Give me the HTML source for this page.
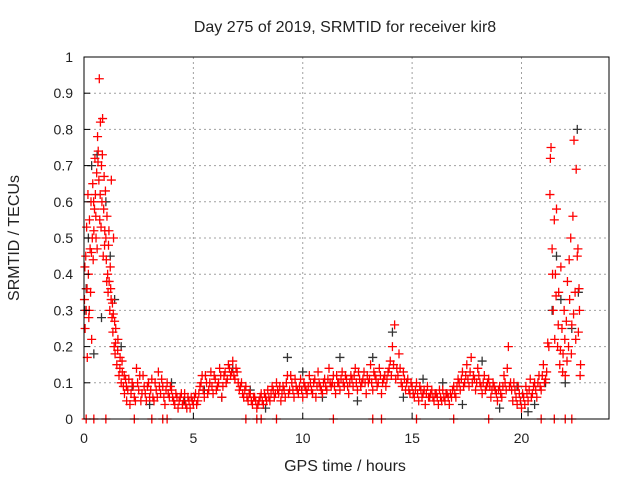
<!DOCTYPE html>
<html><head><meta charset="utf-8"><style>
body{margin:0;background:#fff;}
svg text{font-family:"Liberation Sans",sans-serif;font-size:14px;fill:#222;}
svg text.big{font-size:16px;}
</style></head><body>
<svg id="chart" width="640" height="480">
<text class="big" x="345" y="32" text-anchor="middle">Day 275 of 2019, SRMTID for receiver kir8</text>
<text class="big" x="345" y="471" text-anchor="middle">GPS time / hours</text>
<text class="big" transform="translate(19,238) rotate(-90)" text-anchor="middle">SRMTID / TECUs</text>
<g id="grid"></g>
<g id="black"></g>
<g id="red"></g>
<rect x="84" y="57" width="525" height="362" fill="none" stroke="#000"/>
<g id="axes"></g>
</svg>
<script>
const xTicks=[0,5,10,15,20];
const yTicks=[0,0.1,0.2,0.3,0.4,0.5,0.6,0.7,0.8,0.9,1];
const yTickLabels=["0","0.1","0.2","0.3","0.4","0.5","0.6","0.7","0.8","0.9","1"];
const redData=[[0.02,0.33],[0.05,0.25],[0.08,0.45],[0.1,0.3],[0.12,0.53],[0.15,0.17],[0.18,0.62],[0.2,0.4],[0.22,0.28],[0.25,0.55],[0.28,0.47],[0.3,0.35],[0.32,0.6],[0.35,0.22],[0.38,0.5],[0.4,0.65],[0.42,0.44],[0.45,0.52],[0.48,0.58],[0.5,0.72],[0.52,0.62],[0.55,0.5],[0.58,0.68],[0.6,0.47],[0.62,0.78],[0.65,0.74],[0.68,0.66],[0.7,0.94],[0.72,0.55],[0.75,0.82],[0.78,0.53],[0.8,0.7],[0.82,0.6],[0.85,0.83],[0.88,0.45],[0.9,0.58],[0.92,0.67],[0.95,0.52],[0.98,0.63],[1.0,0.5],[1.02,0.44],[1.05,0.56],[1.08,0.4],[1.1,0.35],[1.12,0.48],[1.15,0.38],[1.18,0.3],[1.2,0.42],[1.22,0.36],[1.25,0.66],[1.28,0.28],[1.3,0.32],[1.32,0.24],[1.35,0.5],[1.38,0.2],[1.4,0.27],[1.42,0.18],[1.45,0.25],[1.5,0.15],[1.55,0.22],[1.6,0.12],[1.65,0.17],[1.7,0.1],[1.75,0.13],[1.8,0.09],[1.85,0.07],[1.9,0.11],[1.95,0.05],[2.0,0.08],[2.1,0.04],[2.2,0.1],[2.3,0.06],[2.4,0.14],[2.5,0.08],[2.6,0.05],[2.7,0.12],[2.8,0.07],[2.9,0.09],[3.0,0.06],[3.1,0.11],[3.2,0.05],[3.3,0.08],[3.4,0.13],[3.5,0.07],[3.6,0.09],[3.7,0.04],[3.8,0.1],[3.9,0.06],[4.0,0.08],[4.1,0.05],[4.2,0.07],[4.3,0.03],[4.4,0.06],[4.5,0.04],[4.6,0.07],[4.7,0.03],[4.8,0.05],[4.9,0.06],[5.0,0.04],[5.1,0.07],[5.2,0.05],[5.3,0.09],[5.4,0.12],[5.5,0.06],[5.6,0.1],[5.7,0.08],[5.8,0.13],[5.9,0.07],[6.0,0.11],[6.1,0.09],[6.2,0.14],[6.3,0.06],[6.4,0.12],[6.5,0.1],[6.6,0.15],[6.7,0.12],[6.8,0.16],[6.9,0.11],[7.0,0.13],[7.1,0.08],[7.2,0.1],[7.3,0.06],[7.4,0.09],[7.5,0.05],[7.6,0.07],[7.7,0.04],[7.8,0.06],[7.9,0.03],[8.0,0.05],[8.1,0.07],[8.2,0.04],[8.3,0.06],[8.4,0.08],[8.5,0.05],[8.6,0.09],[8.7,0.06],[8.8,0.1],[8.9,0.07],[9.0,0.05],[9.1,0.09],[9.2,0.06],[9.3,0.12],[9.4,0.08],[9.5,0.1],[9.6,0.06],[9.7,0.09],[9.8,0.07],[9.9,0.11],[10.0,0.06],[10.1,0.09],[10.2,0.07],[10.3,0.12],[10.4,0.08],[10.5,0.1],[10.6,0.06],[10.7,0.13],[10.8,0.09],[10.9,0.07],[11.0,0.11],[11.1,0.08],[11.2,0.14],[11.3,0.09],[11.4,0.12],[11.5,0.07],[11.6,0.1],[11.7,0.08],[11.8,0.13],[11.9,0.09],[12.0,0.11],[12.1,0.07],[12.2,0.12],[12.3,0.09],[12.4,0.14],[12.5,0.08],[12.6,0.11],[12.7,0.1],[12.8,0.13],[12.9,0.07],[13.0,0.1],[13.1,0.15],[13.2,0.08],[13.3,0.12],[13.4,0.09],[13.5,0.14],[13.6,0.07],[13.7,0.11],[13.8,0.09],[13.9,0.13],[14.0,0.16],[14.1,0.2],[14.2,0.26],[14.3,0.14],[14.4,0.18],[14.5,0.1],[14.6,0.13],[14.7,0.08],[14.8,0.11],[14.9,0.07],[15.0,0.09],[15.1,0.06],[15.2,0.1],[15.3,0.05],[15.4,0.08],[15.5,0.07],[15.6,0.04],[15.7,0.09],[15.8,0.06],[15.9,0.08],[16.0,0.05],[16.1,0.07],[16.2,0.04],[16.3,0.06],[16.4,0.08],[16.5,0.05],[16.6,0.07],[16.7,0.04],[16.8,0.06],[16.9,0.09],[17.0,0.06],[17.1,0.11],[17.2,0.08],[17.3,0.13],[17.4,0.1],[17.5,0.15],[17.6,0.09],[17.7,0.17],[17.8,0.12],[17.9,0.08],[18.0,0.14],[18.1,0.1],[18.2,0.07],[18.3,0.12],[18.4,0.09],[18.5,0.11],[18.6,0.06],[18.7,0.1],[18.8,0.08],[18.9,0.05],[19.0,0.09],[19.1,0.06],[19.2,0.12],[19.3,0.08],[19.4,0.2],[19.5,0.1],[19.6,0.05],[19.7,0.08],[19.8,0.04],[19.9,0.07],[20.0,0.03],[20.1,0.06],[20.2,0.09],[20.3,0.05],[20.4,0.11],[20.5,0.07],[20.6,0.1],[20.7,0.06],[20.8,0.12],[20.9,0.08],[21.0,0.15],[21.1,0.11],[21.2,0.21],[21.3,0.62],[21.35,0.75],[21.4,0.47],[21.45,0.3],[21.5,0.55],[21.55,0.4],[21.6,0.58],[21.65,0.2],[21.7,0.35],[21.75,0.15],[21.8,0.42],[21.85,0.25],[21.9,0.18],[21.95,0.3],[22.0,0.12],[22.05,0.27],[22.1,0.38],[22.15,0.2],[22.2,0.33],[22.25,0.5],[22.3,0.26],[22.35,0.56],[22.4,0.77],[22.45,0.35],[22.5,0.69],[22.55,0.45],[22.6,0.24],[22.65,0.3],[22.7,0.15],[0.1,0],[0.45,0],[1.0,0],[2.3,0],[3.1,0],[3.6,0],[3.8,0],[7.4,0],[7.9,0],[8.1,0],[8.8,0],[11.4,0],[13.2,0],[13.6,0],[15.2,0],[16.9,0],[18.5,0],[20.9,0],[21.5,0],[22.0,0],[22.3,0]];
const redData2=[[0.04,0.42],[0.14,0.36],[0.24,0.3],[0.34,0.46],[0.44,0.6],[0.54,0.56],[0.64,0.71],[0.74,0.62],[0.84,0.73],[0.94,0.48],[1.04,0.38],[1.14,0.52],[1.24,0.33],[1.34,0.29],[1.44,0.21],[1.54,0.19],[1.64,0.14],[1.74,0.16],[1.84,0.12],[1.94,0.09],[2.05,0.11],[2.15,0.07],[2.25,0.09],[2.35,0.05],[2.45,0.1],[2.55,0.12],[2.65,0.07],[2.75,0.09],[2.85,0.05],[2.95,0.1],[3.05,0.08],[3.15,0.06],[3.25,0.1],[3.35,0.06],[3.45,0.09],[3.55,0.11],[3.65,0.06],[3.75,0.08],[3.85,0.07],[3.95,0.09],[4.05,0.06],[4.15,0.04],[4.25,0.06],[4.35,0.05],[4.45,0.07],[4.55,0.05],[4.65,0.04],[4.75,0.06],[4.85,0.03],[4.95,0.05],[5.05,0.06],[5.15,0.04],[5.25,0.07],[5.35,0.1],[5.45,0.08],[5.55,0.12],[5.65,0.07],[5.75,0.1],[5.85,0.09],[5.95,0.12],[6.05,0.08],[6.15,0.1],[6.25,0.12],[6.35,0.09],[6.45,0.13],[6.55,0.11],[6.65,0.14],[6.75,0.13],[6.85,0.12],[6.95,0.14],[7.05,0.1],[7.15,0.09],[7.25,0.07],[7.35,0.08],[7.45,0.06],[7.55,0.07],[7.65,0.05],[7.75,0.06],[7.85,0.05],[7.95,0.04],[8.05,0.06],[8.15,0.05],[8.25,0.07],[8.35,0.05],[8.45,0.06],[8.55,0.07],[8.65,0.08],[8.75,0.07],[8.85,0.08],[8.95,0.09],[9.05,0.07],[9.15,0.08],[9.25,0.1],[9.35,0.07],[9.45,0.12],[9.55,0.08],[9.65,0.11],[9.75,0.08],[9.85,0.09],[9.95,0.08],[10.05,0.1],[10.15,0.08],[10.25,0.09],[10.35,0.1],[10.45,0.07],[10.55,0.11],[10.65,0.09],[10.75,0.1],[10.85,0.08],[10.95,0.1],[11.05,0.09],[11.15,0.11],[11.25,0.1],[11.35,0.1],[11.45,0.09],[11.55,0.12],[11.65,0.1],[11.75,0.11],[11.85,0.1],[11.95,0.12],[12.05,0.09],[12.15,0.1],[12.25,0.11],[12.35,0.12],[12.45,0.1],[12.55,0.13],[12.65,0.09],[12.75,0.11],[12.85,0.1],[12.95,0.12],[13.05,0.11],[13.15,0.1],[13.25,0.13],[13.35,0.11],[13.45,0.1],[13.55,0.12],[13.65,0.1],[13.75,0.12],[13.85,0.11],[13.95,0.14],[14.05,0.12],[14.15,0.15],[14.25,0.11],[14.35,0.12],[14.45,0.14],[14.55,0.09],[14.65,0.11],[14.75,0.1],[14.85,0.08],[14.95,0.1],[15.05,0.07],[15.15,0.08],[15.25,0.07],[15.35,0.09],[15.45,0.06],[15.55,0.08],[15.65,0.07],[15.75,0.06],[15.85,0.07],[15.95,0.06],[16.05,0.07],[16.15,0.06],[16.25,0.08],[16.35,0.05],[16.45,0.06],[16.55,0.07],[16.65,0.06],[16.75,0.07],[16.85,0.08],[16.95,0.07],[17.05,0.09],[17.15,0.1],[17.25,0.11],[17.35,0.09],[17.45,0.12],[17.55,0.11],[17.65,0.13],[17.75,0.1],[17.85,0.11],[17.95,0.1],[18.05,0.12],[18.15,0.09],[18.25,0.1],[18.35,0.08],[18.45,0.1],[18.55,0.09],[18.65,0.08],[18.75,0.09],[18.85,0.07],[18.95,0.08],[19.05,0.07],[19.15,0.09],[19.25,0.1],[19.35,0.14],[19.45,0.09],[19.55,0.08],[19.65,0.1],[19.75,0.06],[19.85,0.09],[19.95,0.05],[20.05,0.07],[20.15,0.04],[20.25,0.07],[20.35,0.08],[20.45,0.06],[20.55,0.09],[20.65,0.08],[20.75,0.1],[20.85,0.09],[20.95,0.12],[21.05,0.1],[21.15,0.13],[21.25,0.2],[21.32,0.72],[21.42,0.4],[21.52,0.22],[21.58,0.34],[21.68,0.26],[21.78,0.19],[21.88,0.13],[21.98,0.22],[22.08,0.16],[22.18,0.44],[22.28,0.18],[22.38,0.29],[22.48,0.22],[22.58,0.47],[22.63,0.36],[22.68,0.12]];
const blackData=[[0.03,0.3],[0.1,0.36],[0.2,0.5],[0.35,0.7],[0.45,0.18],[0.6,0.73],[0.8,0.28],[1.0,0.6],[1.2,0.45],[1.4,0.33],[1.7,0.2],[2.2,0.09],[3.0,0.04],[4.0,0.1],[4.6,0.05],[5.5,0.08],[6.3,0.06],[6.8,0.14],[7.6,0.08],[8.3,0.03],[9.3,0.17],[10.0,0.13],[10.9,0.06],[11.7,0.17],[12.5,0.05],[13.2,0.17],[14.1,0.24],[14.6,0.06],[15.5,0.11],[16.4,0.1],[17.3,0.04],[18.2,0.16],[19.0,0.03],[19.8,0.09],[20.3,0.02],[20.6,0.04],[21.1,0.1],[21.4,0.3],[21.6,0.45],[21.8,0.33],[22.0,0.1],[22.3,0.25],[22.55,0.8],[22.6,0.35]];
const X0=84,X1=609,Y0=419,Y1=57;
const xs=t=>X0+(t/24)*(X1-X0);
const ys=v=>Y0-v*(Y0-Y1);
const NS="http://www.w3.org/2000/svg";
function mk(tag,attrs,parent){const e=document.createElementNS(NS,tag);for(const k in attrs)e.setAttribute(k,attrs[k]);parent.appendChild(e);return e;}
const grid=document.getElementById('grid'),axes=document.getElementById('axes');
xTicks.forEach((t,i)=>{
  if(t>0){const g=mk('line',{x1:xs(t),x2:xs(t),y1:Y0,y2:Y1,stroke:'#a0a0a0','stroke-dasharray':'2,3'},grid);
  
  }
  const tk=mk('line',{x1:xs(t),x2:xs(t),y1:Y0,y2:Y0-6,stroke:'#000'},axes);
  
  
  const lb=mk('text',{x:xs(t),y:443,'text-anchor':'middle'},axes);lb.textContent=String(t);
  
  
});
yTicks.forEach((v,i)=>{
  if(v>0&&v<1){const g=mk('line',{x1:X0,x2:X1,y1:ys(v),y2:ys(v),stroke:'#a0a0a0','stroke-dasharray':'2,3'},grid);
  
  }
  const tk=mk('line',{x1:X0,x2:X0+6,y1:ys(v),y2:ys(v),stroke:'#000'},axes);
  
  
  const lb=mk('text',{x:73,y:ys(v)+5,'text-anchor':'end'},axes);lb.textContent=yTickLabels[i];
  
  
});
function plus(d,color,parent,name){
  d.forEach(p=>{
    const x=xs(p[0]),y=ys(p[1]);
    const e=mk('path',{d:`M${x-4.5},${y}h9M${x},${y-4.5}v9`,stroke:color,'stroke-width':1.3,fill:'none'},parent);
    
    
  });
}
plus(blackData,'#333',document.getElementById('black'),'black-point');
plus(redData,'#ff0000',document.getElementById('red'),'red-point');
plus(redData2,'#ff0000',document.getElementById('red'),'red-point');
</script>
</body></html>
